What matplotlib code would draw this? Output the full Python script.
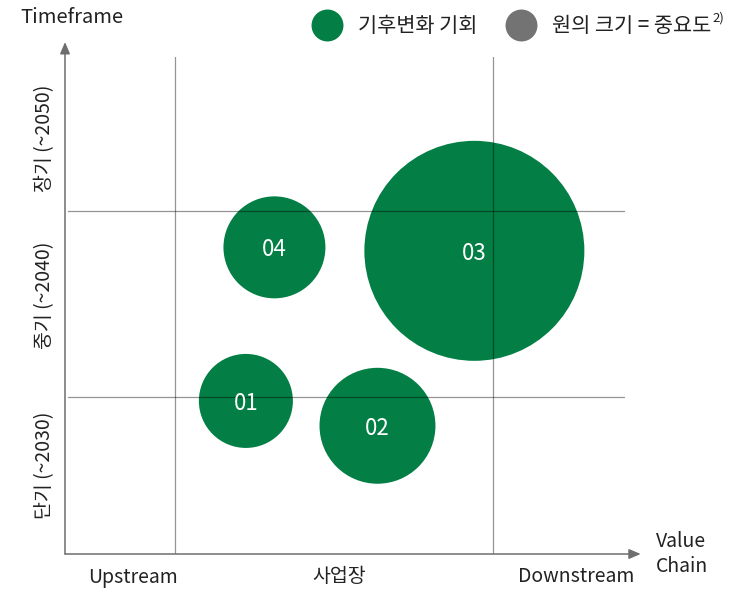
import matplotlib
matplotlib.use("Agg")
import matplotlib.pyplot as plt
from matplotlib.lines import Line2D

plt.rcParams["font.family"] = ["Noto Sans CJK KR", "DejaVu Sans"]

# ─── DATA ────────────────────────────────────────────────────────────────────
LABELS     = ["01", "02", "03", "04"]
VALUE_POS  = [32.3, 55.8, 73.1, 37.4]      # value chain position (0-100)
TIME_POS   = [30.8, 25.8, 61.0, 61.7]      # timeframe position (0-100)
IMPORTANCE = [2.21, 3.36, 12.1, 2.60]      # bubble area (relative)

X_TICKS  = ["Upstream", "사업장", "Downstream"]
Y_TICKS  = ["단기 (~2030)", "중기 (~2040)", "장기 (~2050)"]
X_SPLITS = [19.6, 76.5]
Y_SPLITS = [31.6, 69.1]

GREEN = "#037F45"
GREY  = "#737373"
TEXT  = "#222222"

W, H = 735, 590
fig = plt.figure(figsize=(W / 100, H / 100), dpi=100)
ax = fig.add_axes([65 / W, (H - 554) / H, 560 / W, 497 / H])
ax.set_xlim(0, 100)
ax.set_ylim(0, 100)
for s in ax.spines.values():
    s.set_visible(False)

# bubbles (area in pt^2 from relative importance)
sizes = [v * 1000 * 2.0736 for v in IMPORTANCE]
ax.scatter(VALUE_POS, TIME_POS, s=sizes, c=GREEN, linewidths=0, zorder=2,
           clip_on=False)
for lbl, x, y in zip(LABELS, VALUE_POS, TIME_POS):
    ax.text(x, y, lbl, color="white", fontsize=16, ha="center",
            va="center_baseline", zorder=4)

# quadrant lines on top of bubbles
for x in X_SPLITS:
    ax.axvline(x, color="black", alpha=0.42, lw=0.9, zorder=3)
for y in Y_SPLITS:
    ax.axhline(y, xmin=0.006, xmax=1.0, color="black", alpha=0.42, lw=0.9, zorder=3)

# axis arrows
arrow = dict(arrowstyle="-|>,head_length=0.7,head_width=0.3", color="#6e6e6e",
             lw=1.1, shrinkA=0, shrinkB=0)
ax.annotate("", xy=(0, 1.03), xytext=(0, 0), xycoords="axes fraction",
            arrowprops=arrow, annotation_clip=False)
ax.annotate("", xy=(1.028, 0), xytext=(0, 0), xycoords="axes fraction",
            arrowprops=arrow, annotation_clip=False)

# tick labels
ax.set_xticks([12.1, 48.9, 91.3])
ax.set_xticklabels(X_TICKS, fontsize=14, color=TEXT)
ax.set_yticks([17.9, 52.1, 83.7])
ax.set_yticklabels(Y_TICKS, fontsize=14, color=TEXT, rotation=90, va="center")
ax.tick_params(length=0, pad=9)
ax.tick_params(axis="y", pad=7)

ax.text(0.013, 1.08, "Timeframe", transform=ax.transAxes, fontsize=14.5,
        color=TEXT, ha="center", va="center")
ax.text(1.055, 0.0, "Value\nChain", transform=ax.transAxes, fontsize=14,
        color=TEXT, ha="left", va="center", linespacing=1.2)

# legend
handles = [Line2D([], [], marker="o", ls="", ms=23, mfc=GREEN, mec="none"),
           Line2D([], [], marker="o", ls="", ms=23, mfc=GREY, mec="none")]
leg = fig.legend(handles, ["기후변화 기회", "원의 크기 = 중요도"], ncol=2,
                 loc="center left", bbox_to_anchor=(310 / W, 1 - 26 / H),
                 frameon=False, fontsize=15, handletextpad=0.7,
                 columnspacing=1.3, borderpad=0, borderaxespad=0,
                 handlelength=1.6)
for t in leg.get_texts():
    t.set_color(TEXT)

# superscript note marker after the second legend entry
fig.canvas.draw()
bb = leg.get_texts()[1].get_window_extent()
fig.text((bb.x1 + 1) / W, (bb.y1 + 3) / H, "2)", fontsize=9.5, color=TEXT,
         ha="left", va="top")

fig.savefig("out.png", dpi=100)
